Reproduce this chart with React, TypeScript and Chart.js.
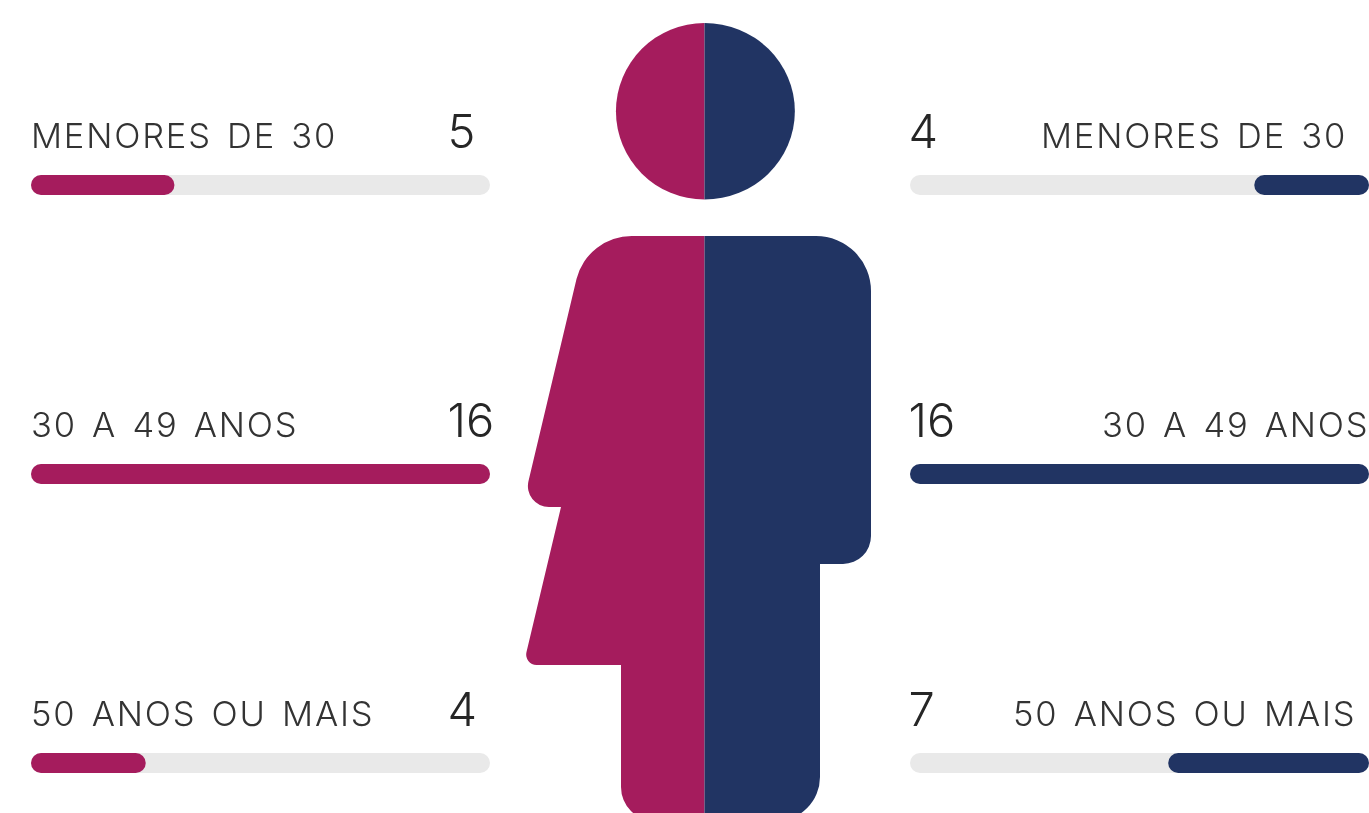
import React, { useEffect, useRef } from "react";
import { Chart, registerables } from "chart.js";

Chart.register(...registerables);

const categories = ["MENORES DE 30", "30 A 49 ANOS", "50 ANOS OU MAIS"];
const womenValues = [5, 16, 4];
const menValues = [4, 16, 7];
const scaleMax = 16;

const PINK = "#A51C5D";
const NAVY = "#213463";
const TRACK = "#E9E9E9";
const LABEL_COLOR = "#333333";
const VALUE_COLOR = "#262626";
const LABEL_FONT = '300 34.5px Inter';
const VALUE_FONT = '300 47px Inter';
const LABEL_SPACING = "1.8px";
const LABEL_WORD_SPACING = "3.8px";

const LEFT_W = 540;
const RIGHT_X = 880;
const RIGHT_W = 489;
const HEIGHT = 813;

// canvas-relative text anchors
const leftLabelX = [31, 31, 31];
const leftValueX = [447.5, 447.5, 447.5];
const rightLabelX = [1041 - RIGHT_X, 1102 - RIGHT_X, 1013 - RIGHT_X];
const rightValueX = [908.5 - RIGHT_X, 908.5 - RIGHT_X, 908.5 - RIGHT_X];

function makeChart(
  canvas: HTMLCanvasElement,
  values: number[],
  color: string,
  reverse: boolean,
  padding: any,
  labelX: number[],
  valueX: number[]
) {
  const textPlugin = {
    id: "rowText",
    afterDraw(chart: any) {
      const { ctx, scales } = chart;
      ctx.save();
      ctx.textBaseline = "alphabetic";
      ctx.textAlign = "left";
      categories.forEach((cat, i) => {
        const y = scales.y.getPixelForValue(i) - 37;
        ctx.font = LABEL_FONT;
        ctx.letterSpacing = LABEL_SPACING;
        ctx.wordSpacing = LABEL_WORD_SPACING;
        ctx.fillStyle = LABEL_COLOR;
        ctx.fillText(cat, labelX[i], y);
        ctx.font = VALUE_FONT;
        ctx.letterSpacing = "0px";
        ctx.wordSpacing = "0px";
        ctx.fillStyle = VALUE_COLOR;
        ctx.fillText(String(values[i]), valueX[i], y);
      });
      ctx.restore();
    },
  };
  const barStyle = {
    clip: false,
    borderRadius: 10,
    borderSkipped: false,
    barThickness: 20,
    grouped: false,
    inflateAmount: 0,
  };
  return new Chart(canvas, {
    type: "bar",
    data: {
      labels: categories,
      datasets: [
        { data: values, backgroundColor: color, order: 0, ...barStyle },
        { data: categories.map(() => scaleMax), backgroundColor: TRACK, order: 1, ...barStyle },
      ],
    } as any,
    options: {
      indexAxis: "y",
      responsive: false,
      animation: false,
      layout: { padding },
      plugins: { legend: { display: false }, tooltip: { enabled: false } },
      scales: {
        x: { display: false, min: 0, max: scaleMax, reverse },
        y: { display: false, offset: false },
      },
    } as any,
    plugins: [textPlugin],
  });
}

export default function App() {
  const leftRef = useRef<HTMLCanvasElement>(null);
  const rightRef = useRef<HTMLCanvasElement>(null);

  useEffect(() => {
    const left = makeChart(
      leftRef.current!,
      womenValues,
      PINK,
      false,
      { left: 31, right: LEFT_W - 490, top: 185, bottom: HEIGHT - 763 },
      leftLabelX,
      leftValueX
    );
    const right = makeChart(
      rightRef.current!,
      menValues,
      NAVY,
      true,
      { left: 910 - RIGHT_X, right: 0, top: 185, bottom: HEIGHT - 763 },
      rightLabelX,
      rightValueX
    );
    return () => {
      left.destroy();
      right.destroy();
    };
  }, []);

  return (
    <div style={{ position: "absolute", left: 0, top: 0, width: 1369, height: HEIGHT, overflow: "hidden", background: "#fff" }}>
      <canvas ref={leftRef} width={LEFT_W} height={HEIGHT} style={{ position: "absolute", left: 0, top: 0 }} />
      <canvas ref={rightRef} width={RIGHT_W} height={HEIGHT} style={{ position: "absolute", left: RIGHT_X, top: 0 }} />
      <svg width={1369} height={HEIGHT} style={{ position: "absolute", left: 0, top: 0, pointerEvents: "none" }}>
        <path fill={PINK} d="M704.5 23 A88.5 88.2 0 0 0 704.5 199.5 Z" />
        <path fill={NAVY} d="M704.5 23 A90.3 88.2 0 0 1 704.5 199.5 Z" />
        <path
          fill={PINK}
          d="M704.5 236 L632 236 A57 57 0 0 0 576.5 279 L528.5 481 A21 21 0 0 0 549 507 L561 507 L526.5 652 A10.5 10.5 0 0 0 536.5 665 L621 665 L621 787 A34 34 0 0 0 655 821 L704.5 821 Z"
        />
        <path
          fill={NAVY}
          d="M704.5 236 L816 236 A55 55 0 0 1 871 291 L871 536 A28 28 0 0 1 843 564 L820 564 L820 777 A44 44 0 0 1 776 821 L704.5 821 Z"
        />
      </svg>
    </div>
  );
}
